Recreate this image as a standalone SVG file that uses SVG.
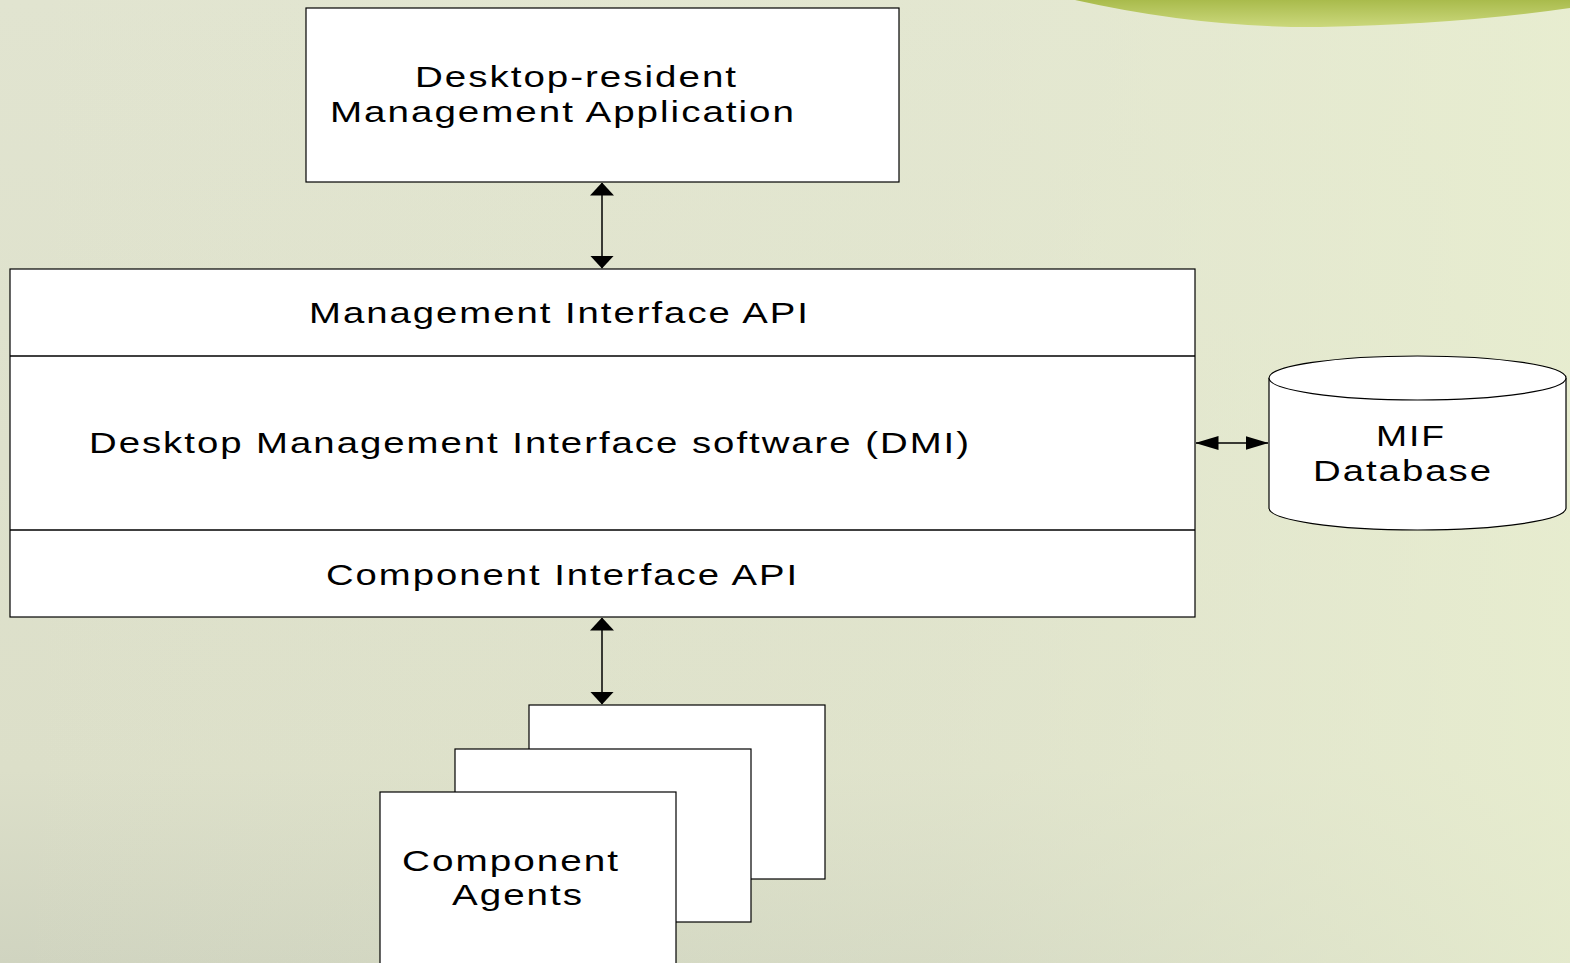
<svg xmlns="http://www.w3.org/2000/svg" width="1570" height="963" viewBox="0 0 1570 963">
<defs>
<linearGradient id="bgv" x1="0" y1="0" x2="0" y2="1">
<stop offset="0" stop-color="#e1e4d0"/>
<stop offset="0.8" stop-color="#dcdfc9"/>
<stop offset="1" stop-color="#d0d4c0"/>
</linearGradient>
<linearGradient id="bgh" x1="0" y1="0" x2="1" y2="0">
<stop offset="0" stop-color="#e8edd2" stop-opacity="0"/>
<stop offset="0.6" stop-color="#e8edd2" stop-opacity="0.3"/>
<stop offset="1" stop-color="#e9efd0" stop-opacity="0.8"/>
</linearGradient>
<linearGradient id="blob" x1="0" y1="0" x2="0" y2="1">
<stop offset="0" stop-color="#a9bb4c"/>
<stop offset="1" stop-color="#cbd87c"/>
</linearGradient>
<marker id="av" viewBox="0 0 13 24" refX="12.5" refY="12" markerWidth="13" markerHeight="24" markerUnits="userSpaceOnUse" orient="auto-start-reverse">
<path d="M0,0 L13,12 L0,24 Z" fill="#000"/>
</marker>
<marker id="ahz" viewBox="0 0 23 14" refX="22.5" refY="7" markerWidth="23" markerHeight="14" markerUnits="userSpaceOnUse" orient="auto-start-reverse">
<path d="M0,0 L23,7 L0,14 Z" fill="#000"/>
</marker>
<style>
.box{fill:#fff;stroke:#000;stroke-width:1.2}
.t{font-family:"Liberation Sans",Arial,sans-serif;font-size:29px;letter-spacing:1.5px;fill:#000}
.c{stroke:#000;stroke-width:1.5;fill:none}
</style>
</defs>
<rect width="1570" height="963" fill="url(#bgv)"/>
<rect width="1570" height="963" fill="url(#bgh)"/>
<path d="M1075,0 Q1200,28 1320,27 Q1460,24 1570,8 L1570,0 Z" fill="url(#blob)"/>

<g id="connectors">
<line class="c" x1="602" y1="183" x2="602" y2="268" marker-start="url(#av)" marker-end="url(#av)"/>
<line class="c" x1="602" y1="618" x2="602" y2="704" marker-start="url(#av)" marker-end="url(#av)"/>
<line class="c" x1="1196" y1="443" x2="1268" y2="443" marker-start="url(#ahz)" marker-end="url(#ahz)"/>
</g>

<g id="app">
<rect class="box" x="306" y="8" width="593" height="174"/>
<text class="t" x="415" y="87" textLength="323" lengthAdjust="spacingAndGlyphs">Desktop-resident</text>
<text class="t" x="330" y="122" textLength="466" lengthAdjust="spacingAndGlyphs">Management Application</text>
</g>

<g id="dmi">
<rect class="box" x="10" y="269" width="1185" height="348"/>
<line class="c" x1="10" y1="356" x2="1195" y2="356" stroke-width="1.2"/>
<line class="c" x1="10" y1="530" x2="1195" y2="530" stroke-width="1.2"/>
<text class="t" x="309" y="323" textLength="501" lengthAdjust="spacingAndGlyphs">Management Interface API</text>
<text class="t" x="89" y="453" textLength="882" lengthAdjust="spacingAndGlyphs">Desktop Management Interface software (DMI)</text>
<text class="t" x="326" y="585" textLength="473" lengthAdjust="spacingAndGlyphs">Component Interface API</text>
</g>

<g id="mif">
<path class="box" d="M1269,378 L1269,508 A148.5,22 0 0 0 1566,508 L1566,378" stroke-width="2.5"/>
<ellipse class="box" cx="1417.5" cy="378" rx="148.5" ry="22" stroke-width="2.5"/>
<text class="t" x="1376" y="446" textLength="70" lengthAdjust="spacingAndGlyphs">MIF</text>
<text class="t" x="1313" y="481" textLength="180" lengthAdjust="spacingAndGlyphs">Database</text>
</g>

<g id="agents">
<rect class="box" x="529" y="705" width="296" height="174"/>
<rect class="box" x="455" y="749" width="296" height="173"/>
<rect class="box" x="380" y="792" width="296" height="180"/>
<text class="t" x="402" y="871" textLength="218" lengthAdjust="spacingAndGlyphs">Component</text>
<text class="t" x="452" y="905" textLength="132" lengthAdjust="spacingAndGlyphs">Agents</text>
</g>
</svg>
